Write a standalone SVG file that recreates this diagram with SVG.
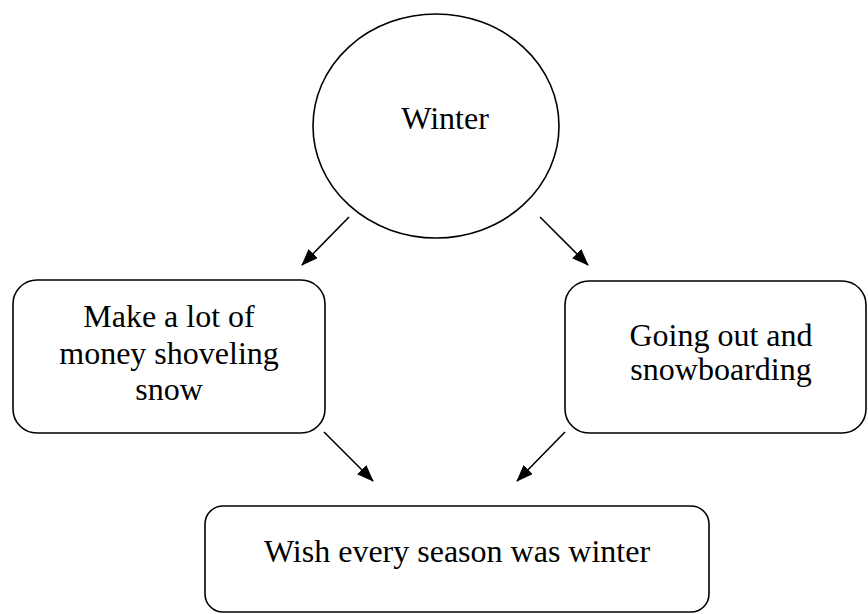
<svg xmlns="http://www.w3.org/2000/svg" width="868" height="614" viewBox="0 0 868 614">
<style>
.shape{fill:#fff;stroke:#000;stroke-width:1.6}
.lbl{font-family:"Liberation Serif","Times New Roman",serif;font-size:32px;fill:#000;text-anchor:middle}
.conn{stroke:#000;stroke-width:1.6;fill:none;marker-end:url(#ah)}
</style>
<defs>
<marker id="ah" markerWidth="17" markerHeight="13" refX="16" refY="6.5" orient="auto" markerUnits="userSpaceOnUse" viewBox="0 0 17 13">
<path d="M0,0 L17,6.5 L0,13 Z" fill="#000"/>
</marker>
</defs>
<rect width="868" height="614" fill="#fff"/>
<g id="winter">
<ellipse class="shape" cx="436" cy="126" rx="123" ry="112"/>
<text class="lbl" x="445" y="129">Winter</text>
</g>
<g id="money">
<rect class="shape" x="13" y="280" width="312" height="153" rx="24"/>
<text class="lbl" x="169" y="327">Make a lot of</text>
<text class="lbl" x="169" y="364">money shoveling</text>
<text class="lbl" x="169" y="400">snow</text>
</g>
<g id="snowboarding">
<rect class="shape" x="565" y="281" width="301" height="152" rx="24"/>
<text class="lbl" x="721" y="346">Going out and</text>
<text class="lbl" x="721" y="380">snowboarding</text>
</g>
<g id="wish">
<rect class="shape" x="205" y="506" width="504" height="106" rx="18"/>
<text class="lbl" x="457" y="562">Wish every season was winter</text>
</g>
<g id="connectors">
<line class="conn" x1="349" y1="217" x2="302" y2="265"/>
<line class="conn" x1="540" y1="217" x2="588" y2="265"/>
<line class="conn" x1="324" y1="432" x2="373" y2="481"/>
<line class="conn" x1="565" y1="432" x2="517" y2="481"/>
</g>
</svg>
